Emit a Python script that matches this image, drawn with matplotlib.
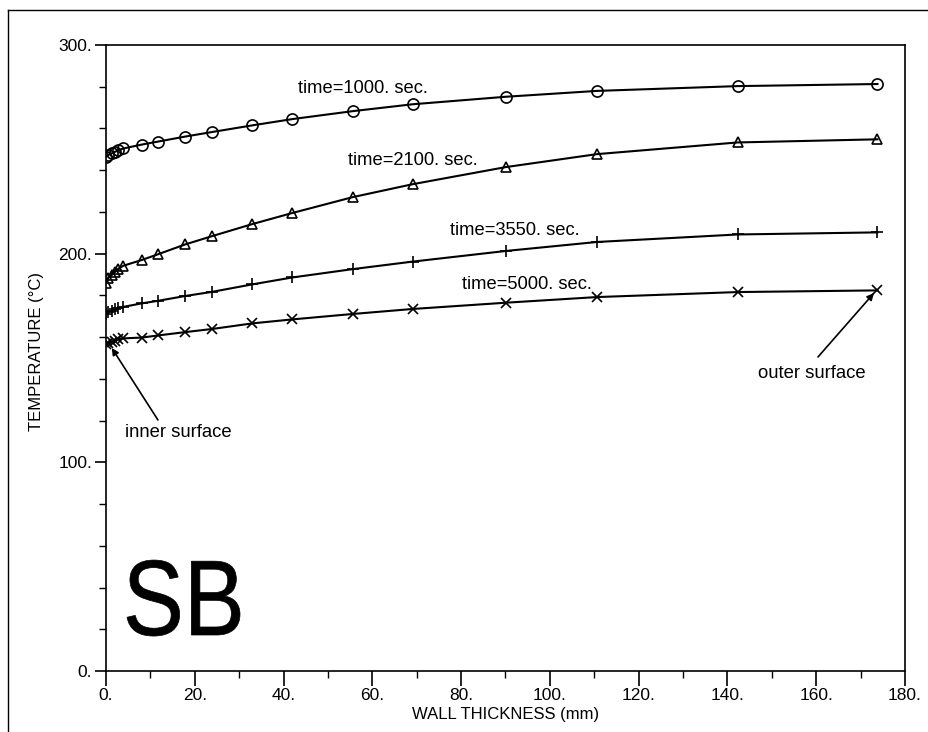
import matplotlib
matplotlib.use("Agg")
import matplotlib.pyplot as plt
from matplotlib.font_manager import FontProperties
from matplotlib.lines import Line2D
from matplotlib.patches import PathPatch
from matplotlib.textpath import TextPath
from matplotlib.transforms import Affine2D, IdentityTransform
from matplotlib.ticker import MultipleLocator, FormatStrFormatter

# radial nodes through the wall (mm)
wall_mm = [0, 0.5, 1.3, 2.0, 2.8, 3.9, 8.1, 11.7, 17.8, 23.9, 33.0, 42.0,
           55.6, 69.1, 90.1, 110.6, 142.3, 173.8]

# temperature profiles (deg C) at each time
t1000 = [246.5, 247.3, 248.1, 248.8, 249.5, 250.4, 252.3, 253.7, 256.1, 258.3,
         261.5, 264.5, 268.3, 271.6, 275.2, 278.0, 280.3, 281.3]
t2100 = [186.0, 188.3, 189.8, 191.2, 192.8, 194.2, 197.0, 199.7, 204.4, 208.4,
         214.2, 219.5, 227.1, 233.3, 241.5, 247.7, 253.3, 254.8]
t3550 = [171.3, 172.0, 172.7, 173.3, 173.9, 174.5, 176.2, 177.4, 179.7, 181.7,
         185.3, 188.6, 192.6, 196.2, 201.3, 205.6, 209.2, 210.2]
t5000 = [156.5, 157.2, 157.8, 158.3, 158.9, 159.4, 159.8, 160.8, 162.4, 163.9,
         166.6, 168.5, 171.1, 173.5, 176.5, 179.2, 181.6, 182.4]

curve_labels = ["time=1000. sec.", "time=2100. sec.", "time=3550. sec.", "time=5000. sec."]
label_pos = [(43.2, 279.3), (54.5, 244.8), (77.5, 211.3), (80.2, 185.0)]

plt.rcParams["font.family"] = ["Liberation Sans", "DejaVu Sans"]

fig = plt.figure(figsize=(9.29, 7.32), dpi=100)
ax = fig.add_axes([106 / 929, 1 - 671 / 732, 799 / 929, 626 / 732])

styles = [dict(marker="o", ms=8, mfc="none"),
          dict(marker="^", ms=7, mfc="none"),
          dict(marker="+", ms=9),
          dict(marker="x", ms=7)]
for temps, st in zip([t1000, t2100, t3550, t5000], styles):
    ax.plot(wall_mm, temps, color="black", lw=1.5, mec="black", mew=1.2, **st)

for txt, (lx, ly) in zip(curve_labels, label_pos):
    ax.text(lx, ly, txt, fontsize=13.2, ha="left", va="center")

arrow = dict(arrowstyle="-|>", color="black", lw=1.2, mutation_scale=10,
             shrinkA=0, shrinkB=0)
ax.annotate("", xy=(1.3, 154.8), xytext=(11.7, 120.3), arrowprops=arrow)
ax.text(16.2, 114.5, "inner surface", fontsize=13.3, ha="center", va="center")
ax.annotate("", xy=(173.0, 181.1), xytext=(160.4, 150.5), arrowprops=arrow)
ax.text(159.0, 142.8, "outer surface", fontsize=13.3, ha="center", va="center")

# big "SB" tag, squeezed horizontally (narrow face)
sb = TextPath((0, 0), "SB", size=100, prop=FontProperties(family="Liberation Sans"))
ext = sb.get_extents()
sx = 113 / ext.width
sy = 76 / ext.height
sb_tf = Affine2D().translate(-ext.x0, 0).scale(sx, sy).translate(127, 732 - 635)
fig.add_artist(PathPatch(sb, transform=sb_tf + IdentityTransform(),
                         facecolor="black", edgecolor="black", lw=0.5))

ax.set_xlim(0, 180)
ax.set_ylim(0, 300)
ax.xaxis.set_major_locator(MultipleLocator(20))
ax.xaxis.set_minor_locator(MultipleLocator(10))
ax.yaxis.set_major_locator(MultipleLocator(100))
ax.yaxis.set_minor_locator(MultipleLocator(20))
ax.xaxis.set_major_formatter(FormatStrFormatter("%d."))
ax.yaxis.set_major_formatter(FormatStrFormatter("%d."))
ax.tick_params(axis="x", which="major", direction="out", length=11, width=1.2, pad=1,
               labelsize=12.5)
ax.tick_params(axis="y", which="major", direction="out", length=8, width=1.2, pad=2,
               labelsize=12.5)
ax.tick_params(which="minor", direction="out", length=5, width=1.0)
for sp in ax.spines.values():
    sp.set_linewidth(1.2)

ax.set_xlabel("WALL THICKNESS (mm)", fontsize=12, labelpad=3)
ax.set_ylabel("TEMPERATURE (°C)", fontsize=12)
ax.yaxis.set_label_coords(-0.077, 0.511)

# page frame
fig.add_artist(Line2D([8 / 929, 1.0], [1 - 10 / 732, 1 - 10 / 732], color="black", lw=1.0))
fig.add_artist(Line2D([8 / 929, 8 / 929], [0.0, 1 - 10 / 732], color="black", lw=1.0))

fig.savefig("out.png", dpi=100)
